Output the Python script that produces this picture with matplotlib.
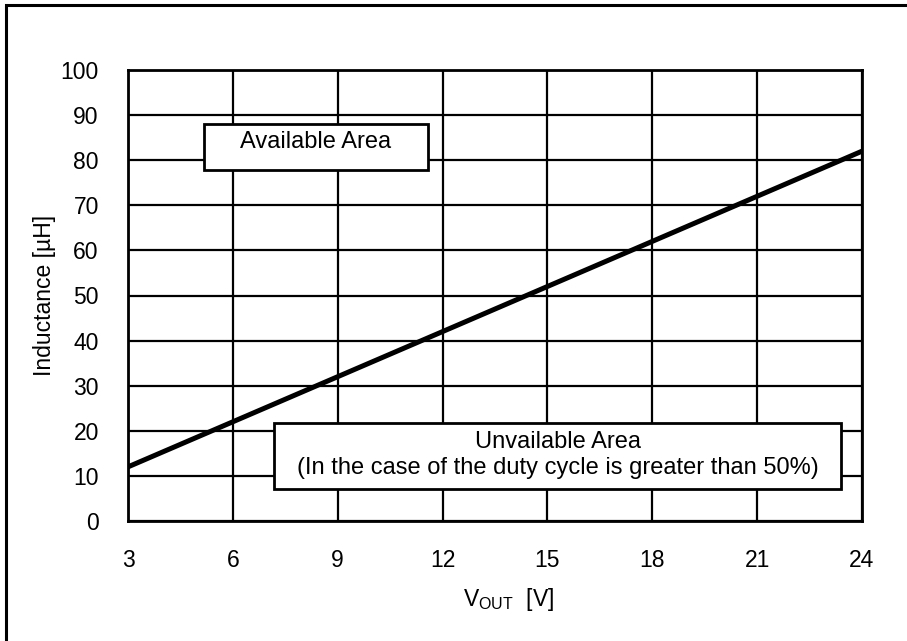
import matplotlib.pyplot as plt
from matplotlib.patches import Rectangle

plt.rcParams['font.family'] = ['Liberation Sans', 'DejaVu Sans']

# minimum inductance vs output voltage
vout = [3, 6, 9, 12, 15, 18, 21, 24]
inductance = [12, 22, 32, 42, 52, 62, 72, 82]

x_ticks = [3, 6, 9, 12, 15, 18, 21, 24]
y_ticks = [0, 10, 20, 30, 40, 50, 60, 70, 80, 90, 100]

fs = 16.5

fig = plt.figure(figsize=(9.07, 6.41), dpi=100)
ax = fig.add_axes([128 / 907, 1 - 521 / 641, 734 / 907, 451 / 641])

# outer frame (runs off the right and bottom edge)
fig.patches.append(Rectangle((6 / 907, -0.1), 1.2, 1 - 5 / 641 + 0.1,
                             transform=fig.transFigure, fill=False,
                             edgecolor='black', linewidth=2.2))

ax.plot(vout, inductance, color='black', linewidth=3.6, zorder=3,
        solid_capstyle='butt')

ax.set_xlim(3, 24)
ax.set_ylim(0, 100)
ax.set_xticks(x_ticks)
ax.set_yticks(y_ticks)
ax.grid(True, color='black', linewidth=1.6)
ax.tick_params(length=0, labelsize=fs)
ax.tick_params(axis='x', pad=20)
ax.tick_params(axis='y', pad=21)
for s in ax.spines.values():
    s.set_linewidth(2)

ax.set_xlabel(r'V$_{\mathregular{OUT}}$  [V]', fontsize=fs, labelpad=8)
ax.xaxis.set_label_coords(0.518, -0.145)
ax.set_ylabel('Inductance [µH]', fontsize=fs, labelpad=3)

# region labels
ax.add_patch(Rectangle((5.17, 77.8), 6.41, 10.2, facecolor='white',
                       edgecolor='black', linewidth=2, zorder=4))
ax.text(8.38, 82.6, 'Available Area', ha='center', va='baseline',
        fontsize=17, zorder=5)

ax.add_patch(Rectangle((7.18, 7.1), 16.22, 14.6, facecolor='white',
                       edgecolor='black', linewidth=2, zorder=4))
ax.text(15.29, 14.6, 'Unvailable Area\n(In the case of the duty cycle is greater than 50%)',
        ha='center', va='center', fontsize=17, zorder=5, linespacing=1.2)

fig.savefig('out.png', dpi=100)
